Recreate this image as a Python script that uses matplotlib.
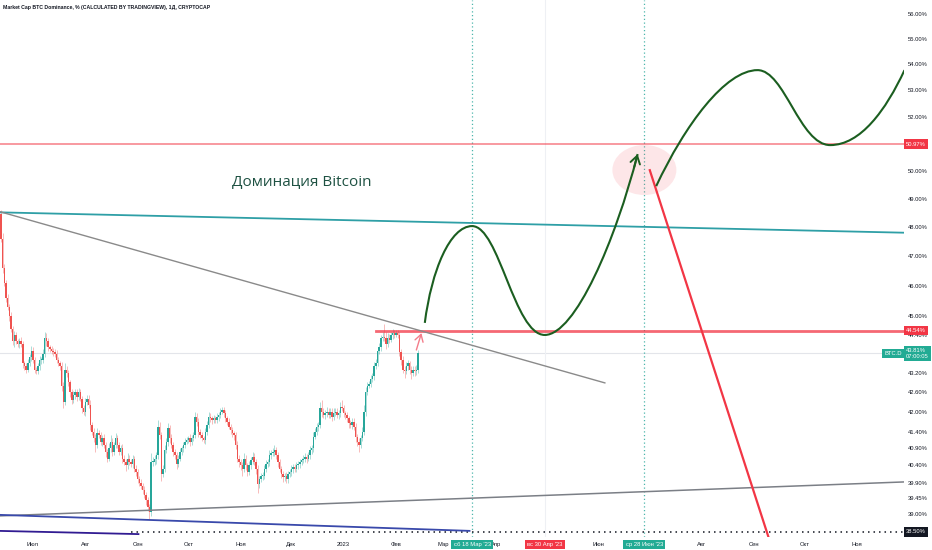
import numpy as np
import pandas as pd
import matplotlib
matplotlib.use("Agg")
import matplotlib.pyplot as plt
import matplotlib.dates as mdates
from matplotlib.path import Path
from matplotlib.patches import PathPatch, Ellipse
from matplotlib.transforms import ScaledTranslation
from matplotlib.ticker import FixedLocator, NullLocator, NullFormatter

plt.rcParams["font.family"] = ["Liberation Sans Narrow", "Liberation Sans", "DejaVu Sans"]

# ---- daily candles, BTC.D (%) from 2022-06-12 ----
first_open = 48.45
closes = [
    47.6, 46.6, 46.1, 45.6, 45.3, 45.0, 44.6, 44.2, 44.4, 44.2,
    44.1, 44.2, 44.1, 43.5, 43.4, 43.3, 43.5, 43.7, 43.9, 43.6,
    43.3, 43.25, 43.4, 43.6, 43.6, 43.8, 44.3, 44.2, 44.0, 43.95,
    43.9, 43.85, 43.8, 43.6, 43.5, 43.4, 42.8, 42.3, 43.3, 43.2,
    42.9, 42.6, 42.35, 42.5, 42.6, 42.45, 42.6, 42.4, 42.1, 42.0,
    42.3, 42.4, 42.2, 41.6, 41.4, 41.2, 41.0, 41.35, 41.3, 41.1,
    41.2, 41.0, 40.8, 40.6, 40.9, 41.1, 40.8, 41.0, 41.2, 41.0,
    40.8, 40.9, 40.6, 40.5, 40.4, 40.6, 40.5, 40.45, 40.6, 40.3,
    40.2, 40.0, 39.9, 39.8, 39.7, 39.55, 39.4, 39.2, 39.05, 40.5,
    40.5, 40.6, 40.7, 41.55, 41.3, 40.15, 40.3, 40.85, 41.1, 41.5,
    41.2, 41.0, 40.8, 40.7, 40.45, 40.6, 40.8, 40.9, 41.0, 41.1,
    41.15, 41.2, 41.1, 41.2, 41.3, 41.85, 41.7, 41.4, 41.3, 41.2,
    41.15, 41.4, 41.6, 41.85, 41.8, 41.75, 41.8, 41.75, 41.85, 41.9,
    42.0, 42.05, 41.95, 41.8, 41.7, 41.55, 41.45, 41.35, 41.3, 41.0,
    40.6, 40.5, 40.4, 40.3, 40.6, 40.4, 40.2, 40.4, 40.55, 40.65,
    40.5, 40.3, 39.85, 40.0, 40.1, 40.1, 40.3, 40.45, 40.5, 40.7,
    40.75, 40.8, 40.85, 40.7, 40.5, 40.3, 40.15, 40.06, 40.1, 40.0,
    40.15, 40.2, 40.3, 40.35, 40.3, 40.4, 40.45, 40.5, 40.55, 40.6,
    40.65, 40.6, 40.7, 40.85, 40.9, 41.25, 41.4, 41.55, 41.6, 42.1,
    42.0, 41.9, 41.95, 42.0, 41.9, 42.0, 41.85, 41.95, 42.0, 41.9,
    41.95, 42.15, 42.1, 41.95, 41.9, 41.8, 41.65, 41.6, 41.7, 41.55,
    41.25, 41.1, 41.0, 41.2, 41.4, 42.0, 42.6, 42.8, 42.85, 43.0,
    43.1, 43.4, 43.5, 43.9, 44.0, 44.3, 44.35, 44.3, 44.1, 44.3,
    44.25, 44.4, 44.45, 44.4, 44.45, 44.4, 43.85, 43.6, 43.3, 43.25,
    43.4, 43.5, 43.3, 43.2, 43.3, 43.25, 43.3, 43.81,
]
# upper / lower wick length in hundredths of a percent
wick_hi = [
    15, 20, 15, 10, 12, 10, 15, 10, 12, 10,
    8, 10, 12, 10, 8, 10, 12, 10, 15, 12,
    10, 8, 10, 12, 10, 15, 20, 15, 10, 8,
    10, 8, 10, 12, 10, 8, 15, 10, 20, 12,
    10, 8, 10, 12, 10, 10, 12, 10, 8, 10,
    12, 10, 10, 15, 10, 10, 12, 15, 10, 8,
    10, 12, 10, 8, 15, 20, 12, 10, 15, 10,
    8, 10, 12, 10, 8, 15, 10, 10, 12, 8,
    10, 10, 8, 10, 8, 10, 8, 10, 10, 25,
    15, 12, 10, 20, 15, 10, 12, 15, 10, 15,
    10, 12, 10, 8, 10, 12, 10, 8, 10, 12,
    10, 8, 12, 10, 10, 15, 12, 10, 8, 10,
    8, 10, 12, 15, 10, 8, 10, 8, 10, 10,
    12, 10, 8, 10, 8, 10, 8, 10, 8, 10,
    12, 10, 8, 10, 15, 10, 8, 12, 10, 15,
    10, 8, 12, 10, 8, 10, 12, 10, 8, 15,
    10, 12, 15, 10, 8, 10, 8, 10, 8, 10,
    8, 10, 12, 10, 8, 10, 8, 10, 8, 10,
    10, 8, 10, 12, 10, 15, 10, 12, 10, 20,
    25, 12, 10, 15, 10, 12, 10, 15, 10, 12,
    10, 15, 20, 10, 8, 10, 8, 10, 12, 10,
    10, 8, 12, 10, 15, 20, 15, 12, 10, 12,
    10, 15, 12, 10, 15, 10, 15, 40, 20, 15,
    12, 10, 15, 10, 12, 10, 8, 10, 12, 10,
    15, 10, 8, 10, 12, 10, 15, 10,
]
wick_lo = [
    10, 15, 10, 12, 10, 15, 10, 12, 20, 10,
    10, 12, 10, 15, 12, 10, 8, 10, 12, 10,
    12, 10, 8, 10, 12, 10, 10, 15, 10, 8,
    10, 12, 10, 8, 10, 12, 15, 20, 10, 12,
    10, 15, 10, 8, 10, 12, 10, 8, 15, 10,
    12, 10, 8, 15, 10, 12, 20, 10, 8, 10,
    12, 10, 15, 10, 8, 10, 12, 10, 8, 10,
    10, 8, 12, 10, 15, 10, 8, 10, 12, 10,
    10, 12, 10, 8, 12, 10, 15, 12, 20, 10,
    12, 10, 15, 10, 12, 20, 10, 8, 10, 12,
    15, 10, 12, 10, 15, 10, 8, 10, 12, 10,
    8, 10, 12, 10, 8, 10, 12, 15, 10, 8,
    10, 12, 10, 8, 10, 12, 10, 8, 10, 12,
    10, 8, 10, 12, 10, 8, 12, 10, 15, 12,
    10, 15, 12, 20, 10, 12, 10, 8, 10, 12,
    10, 15, 25, 10, 8, 12, 10, 8, 10, 12,
    10, 8, 12, 10, 15, 10, 12, 15, 10, 12,
    10, 8, 10, 12, 10, 8, 10, 12, 10, 8,
    10, 12, 8, 10, 12, 10, 8, 10, 12, 10,
    15, 10, 12, 10, 8, 10, 12, 10, 8, 10,
    12, 10, 8, 10, 12, 10, 15, 10, 12, 10,
    15, 12, 20, 10, 8, 10, 12, 10, 8, 10,
    10, 12, 8, 10, 12, 10, 8, 10, 15, 10,
    10, 8, 12, 10, 8, 10, 12, 15, 10, 20,
    10, 12, 15, 20, 10, 15, 12, 10,
]

# ---- drawings ----
teal_line_dates = ["2022-06-11", "2023-11-29"]
teal_line_vals = [48.52, 47.81]
gray_top_dates = ["2022-06-11", "2023-06-05"]
gray_top_vals = [48.55, 42.88]
gray_low_dates = ["2022-06-11", "2023-11-29"]
gray_low_vals = [38.95, 39.92]
blue1_dates = ["2022-06-11", "2023-03-17"]
blue1_vals = [38.98, 38.53]
blue2_dates = ["2022-06-11", "2022-09-02"]
blue2_vals = [38.53, 38.44]
red_drop_dates = ["2023-07-01", "2023-09-10"]
red_drop_vals = [50.06, 38.28]

level_top = 50.97
level_mid = 44.54
level_mid_from = "2023-01-20"
level_low = 38.50
level_low_from = "2022-08-28"
last_price = 43.81

# bezier control points (start, c1, c2, end, c1, c2, end ...)
curve1_dates = ["2023-02-18", "2023-02-22", "2023-03-05", "2023-03-18", "2023-04-03",
                "2023-04-12", "2023-04-30", "2023-05-18", "2023-06-11", "2023-06-24"]
curve1_vals = [44.79, 46.53, 48.04, 48.04, 48.04, 44.40, 44.40, 44.40, 47.56, 50.61]
curve1_arrow_from = ("2023-06-22", 50.14)
curve2_dates = ["2023-07-05", "2023-07-22", "2023-08-15", "2023-09-03", "2023-09-19",
                "2023-09-28", "2023-10-16", "2023-11-03", "2023-11-18", "2023-11-29"]
curve2_vals = [49.45, 51.69, 53.78, 53.78, 53.78, 50.94, 50.94, 50.94, 52.25, 53.78]

small_arrow = [("2023-02-13", 43.92), ("2023-02-16", 44.46)]
circle_center = ("2023-06-28", 50.03)
vlines_dotted = ["2023-03-18", "2023-06-28"]
vline_cross = "2023-04-30"
label_pos = ("2022-12-07", 49.59)

y_ticks = [56, 55, 54, 53, 52, 50, 49, 48, 47, 46, 45, 44.4, 43.2, 42.6, 42.0,
           41.4, 40.9, 40.4, 39.9, 39.45, 39.0]
x_tick_dates = ["2022-07-01", "2022-08-01", "2022-09-01", "2022-10-01", "2022-11-01",
                "2022-12-01", "2023-01-01", "2023-02-01", "2023-03-01", "2023-04-01",
                "2023-06-01", "2023-08-01", "2023-09-01", "2023-10-01", "2023-11-01"]
x_tick_labels = ["Июл", "Авг", "Сен", "Окт", "Ноя", "Дек", "2023", "Фев", "Мар", "Апр",
                 "Июн", "Авг", "Сен", "Окт", "Ноя"]
date_tags = [("2023-03-18", "сб 18 Мар '23", "#22ab94"),
             ("2023-04-30", "вс 30 Апр '23", "#f23645"),
             ("2023-06-28", "ср 28 Июн '23", "#22ab94")]


def dn(d):
    return mdates.date2num(pd.Timestamp(d))


GREEN = "#26a69a"
RED = "#ef5350"
TXT = "#131722"
FS = 4.2

fig = plt.figure(figsize=(9.32, 5.5), dpi=100)
ax = fig.add_axes([0, 13 / 550, 904 / 932, 537 / 550])
ax.set_yscale("log")
x0 = dn("2022-06-12") - 0.5
ax.set_xlim(x0, x0 + 535.2)
ax.set_ylim(38.36, 56.58)

# candles
c = np.array(closes)
o = np.array([first_open] + closes[:-1])
hi = np.maximum(o, c) + np.array(wick_hi) / 100
lo = np.minimum(o, c) - np.array(wick_lo) / 100
days = mdates.date2num(pd.date_range("2022-06-12", periods=len(c), freq="D"))
cols = np.where(c >= o, GREEN, RED)
ax.vlines(days, lo, hi, colors=cols, lw=0.6, alpha=0.45, zorder=2)
ax.bar(days, np.maximum(np.abs(c - o), 0.025), bottom=np.minimum(o, c), width=0.85,
       color=cols, linewidth=0, zorder=2)

# horizontal levels
ax.axhline(last_price, color="#e3e5ea", lw=0.8, zorder=1)
ax.axhline(level_top, color="#f23645", alpha=0.55, lw=1.3, zorder=3)
ax.plot([dn(level_mid_from), x0 + 536], [level_mid, level_mid], color="#f23645",
        alpha=0.75, lw=2, zorder=3)
ax.plot([dn(level_low_from), x0 + 536], [level_low, level_low], color=TXT,
        lw=1.1, linestyle=(0, (1, 2.6)), zorder=3)

# vertical lines
for d in vlines_dotted:
    ax.axvline(dn(d), color="#4db6ac", lw=0.9, linestyle=(0, (1, 2)), zorder=1)
ax.axvline(dn(vline_cross), color="#eef0f4", lw=0.8, zorder=1)

# trend lines
def seg(ds, vs, **kw):
    ax.plot([dn(d) for d in ds], vs, solid_capstyle="butt", **kw)

seg(teal_line_dates, teal_line_vals, color="#2e9fa6", lw=1.3, zorder=3)
seg(gray_top_dates, gray_top_vals, color="#8a8a8a", lw=1.0, zorder=3)
seg(gray_low_dates, gray_low_vals, color="#7b7f86", lw=1.1, zorder=3)
seg(blue1_dates, blue1_vals, color="#3949ab", lw=1.3, zorder=3)
seg(blue2_dates, blue2_vals, color="#311b92", lw=1.3, zorder=3)

# pink circle
ell = Ellipse((0, 0), 0.64, 0.50, facecolor="#f23645", alpha=0.12, edgecolor="none",
              transform=fig.dpi_scale_trans + ScaledTranslation(
                  dn(circle_center[0]), circle_center[1], ax.transData), zorder=2)
ax.add_patch(ell)

seg(red_drop_dates, red_drop_vals, color="#f23645", lw=1.6, zorder=4)

# green curves
def bezier(ds, vs):
    verts = [(dn(d), v) for d, v in zip(ds, vs)]
    codes = [Path.MOVETO] + [Path.CURVE4] * (len(verts) - 1)
    ax.add_patch(PathPatch(Path(verts, codes), fill=False, edgecolor="#1b5e20",
                           lw=1.5, transform=ax.transData, zorder=5))

bezier(curve1_dates, curve1_vals)
bezier(curve2_dates, curve2_vals)
ax.annotate("", xy=(dn(curve1_dates[-1]), curve1_vals[-1]),
            xytext=(dn(curve1_arrow_from[0]), curve1_arrow_from[1]),
            arrowprops=dict(arrowstyle="->,head_length=0.55,head_width=0.35",
                            color="#1b5e20", lw=1.4, shrinkA=0, shrinkB=0), zorder=5)
ax.annotate("", xy=(dn(small_arrow[1][0]), small_arrow[1][1]),
            xytext=(dn(small_arrow[0][0]), small_arrow[0][1]),
            arrowprops=dict(arrowstyle="->,head_length=0.5,head_width=0.3",
                            color="#f47c8a", lw=1.0, shrinkA=0, shrinkB=0), zorder=5)

ax.text(dn(label_pos[0]), label_pos[1], "Доминация Bitcoin", ha="center", va="center",
        fontsize=11, color="#1f5243", family=["Open Sans", "DejaVu Sans"], zorder=6)

# axes styling
for s in ax.spines.values():
    s.set_visible(False)
ax.yaxis.tick_right()
ax.yaxis.set_major_locator(FixedLocator(y_ticks))
ax.yaxis.set_major_formatter(plt.FuncFormatter(lambda v, p: f"{v:.2f}%"))
ax.yaxis.set_minor_locator(NullLocator())
ax.yaxis.set_minor_formatter(NullFormatter())
ax.set_xticks([dn(d) for d in x_tick_dates])
ax.set_xticklabels(x_tick_labels)
ax.tick_params(axis="both", length=0, labelsize=FS, labelcolor=TXT)
ax.tick_params(axis="y", pad=3)
ax.tick_params(axis="x", pad=3.5)

# price tags on the right
ytr = ax.get_yaxis_transform()
def ytag(v, text, color, dx=1.5, ha="left"):
    ax.annotate(text, xy=(1.0, v), xycoords=ytr, xytext=(dx, 0),
                textcoords="offset points", ha=ha, va="center", fontsize=FS,
                color="white", annotation_clip=False, zorder=10, linespacing=1.1,
                bbox=dict(boxstyle="square,pad=0.4", fc=color, ec="none"))

ytag(level_top, f"{level_top:.2f}%", "#f23645")
ytag(level_mid, f"{level_mid:.2f}%", "#f23645")
ytag(level_low, f"{level_low:.2f}%", TXT)
ytag(last_price, f"{last_price:.2f}%\n07:00:05", "#22ab94")
ytag(last_price, "BTC.D", "#22ab94", dx=-1.5, ha="right")

# date tags at the bottom
xtr = ax.get_xaxis_transform()
for d, text, color in date_tags:
    ax.annotate(text, xy=(dn(d), 0), xycoords=xtr, xytext=(0, -5.4),
                textcoords="offset points", ha="center", va="center", fontsize=FS,
                color="white", annotation_clip=False, zorder=10,
                bbox=dict(boxstyle="square,pad=0.4", fc=color, ec="none"))

fig.text(3 / 932, 1 - 8 / 550,
         "Market Cap BTC Dominance, % (CALCULATED BY TRADINGVIEW), 1Д, CRYPTOCAP",
         ha="left", va="center", fontsize=3.7, color=TXT, fontweight="bold")

fig.savefig("out.png", dpi=100)
